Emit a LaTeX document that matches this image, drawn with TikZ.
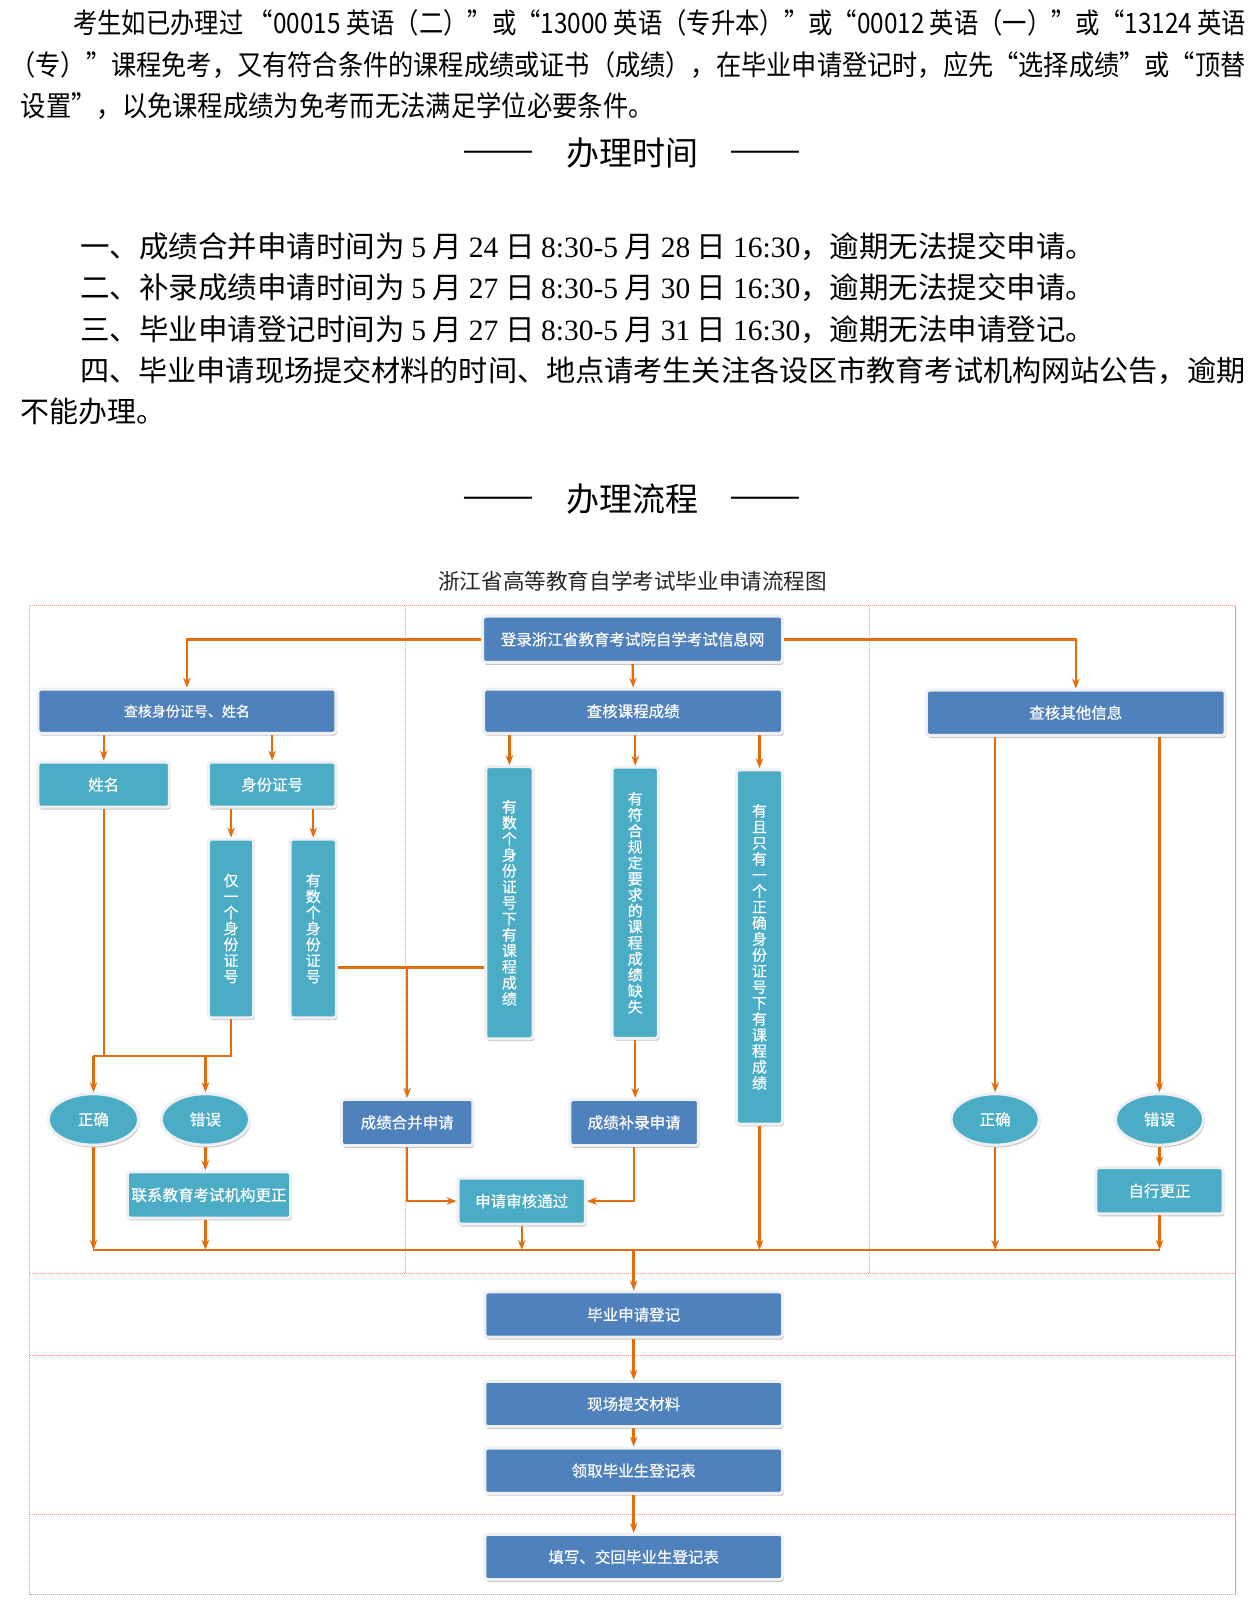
\documentclass[tikz,border=0pt]{standalone}
\usepackage{fontspec}
\setmainfont{Noto Sans CJK SC}
\newfontfamily\sn{Liberation Serif}
\newfontfamily\bxf[FakeBold=0.5]{Noto Sans CJK SC}
\usepackage{graphicx}
\usetikzlibrary{arrows.meta,shapes.geometric,shadows}
\definecolor{boxblue}{RGB}{79,129,189}
\definecolor{boxteal}{RGB}{75,172,198}
\definecolor{lineor}{RGB}{228,108,10}
\definecolor{dotred}{RGB}{236,150,150}
\definecolor{rim}{RGB}{238,240,244}
\begin{document}
\begin{tikzpicture}[x=1.027pt,y=-1.027pt,
  bx/.style={rectangle,rounded corners=3pt,draw=rim,line width=3pt,inner sep=0pt,text=white,
    font=\bxf\fontsize{15.5}{15.5}\selectfont,
    drop shadow={shadow xshift=1.2pt,shadow yshift=-2.4pt,fill=black!45}},
  bblue/.style={bx,fill=boxblue},
  bteal/.style={bx,fill=boxteal},
  vbox/.style={bteal,align=center,font=\bxf\fontsize{15}{16}\selectfont},
  ell/.style={ellipse,fill=boxteal,draw=rim,line width=3pt,inner sep=0pt,text=white,
    font=\bxf\fontsize{15.5}{15.5}\selectfont,
    drop shadow={shadow xshift=1.2pt,shadow yshift=-2.4pt,fill=black!45}},
  bw/.style={minimum width=#1*1.027pt},
  bh/.style={minimum height=#1*1.027pt},
  con/.style={draw=lineor,line width=2.4pt},
  arr/.style={con,-{Stealth[length=10pt,width=7.5pt]}},
  sep/.style={draw=dotred,dash pattern=on 1.2pt off 0.8pt,line width=1pt},
  txt/.style={anchor=west,inner sep=0pt},
  hd/.style={inner sep=0pt,font=\fontsize{33}{33}\selectfont},
]
\fill[white] (0,0) rectangle (1225.9,1569.6);
\useasboundingbox (0,0) rectangle (1225.9,1569.6);

% ---------- top paragraph ----------
\node[txt] (p1) at (71,22) {\resizebox{1173pt}{24pt}{\fontsize{26}{26}\selectfont 考生如已办理过 “00015 英语（二）”或“13000 英语（专升本）”或“00012 英语（一）”或“13124 英语}};
\node[txt] (p2) at (10,63) {\resizebox{1235pt}{24pt}{\fontsize{26}{26}\selectfont （专）”课程免考，又有符合条件的课程成绩或证书（成绩），在毕业申请登记时，应先“选择成绩”或“顶替}};
\node[txt] (p3) at (20,103) {\resizebox{633pt}{24pt}{\fontsize{26}{26}\selectfont 设置”，以免课程成绩为免考而无法满足学位必要条件。}};

% ---------- heading 1 ----------
\node[hd] (d1) at (485,152) {\scalebox{1.3}[1]{——}};
\node[hd] (h1) at (616,149) {办理时间};
\node[hd] (d2) at (745,152) {\scalebox{1.3}[1]{——}};

% ---------- time lines ----------
\node[txt] (t1) at (78,240) {\resizebox{1015pt}{!}{\fontsize{28}{28}\selectfont 一、成绩合并申请时间为 {\sn 5} 月 {\sn 24} 日 {\sn 8:30-5} 月 {\sn 28} 日 {\sn 16:30}，逾期无法提交申请。}};
\node[txt] (t2) at (78,280) {\resizebox{1015pt}{!}{\fontsize{28}{28}\selectfont 二、补录成绩申请时间为 {\sn 5} 月 {\sn 27} 日 {\sn 8:30-5} 月 {\sn 30} 日 {\sn 16:30}，逾期无法提交申请。}};
\node[txt] (t3) at (78,321) {\resizebox{1015pt}{!}{\fontsize{28}{28}\selectfont 三、毕业申请登记时间为 {\sn 5} 月 {\sn 27} 日 {\sn 8:30-5} 月 {\sn 31} 日 {\sn 16:30}，逾期无法申请登记。}};
\node[txt] (t4) at (78,361) {\resizebox{1165pt}{!}{\fontsize{28}{28}\selectfont 四、毕业申请现场提交材料的时间、地点请考生关注各设区市教育考试机构网站公告，逾期}};
\node[txt,font=\fontsize{29}{29}\selectfont] (t5) at (20,401) {不能办理。};

% ---------- heading 2 ----------
\node[hd] (d3) at (485,489) {\scalebox{1.3}[1]{——}};
\node[hd] (h2) at (616,486) {办理流程};
\node[hd] (d4) at (745,489) {\scalebox{1.3}[1]{——}};

% ---------- flow title ----------
\node[inner sep=0pt,font=\fontsize{21.6}{21.6}\selectfont,text=black!85] (title) at (616,566) {浙江省高等教育自学考试毕业申请流程图};

% ---------- separators ----------
\draw[sep] (29,590) rectangle (1203,1553);
\draw[sep] (395,590) -- (395,1240);
\draw[sep] (847,590) -- (847,1240);
\draw[sep] (29,1240) -- (1203,1240);
\draw[sep] (29,1320) -- (1203,1320);
\draw[sep] (29,1475) -- (1203,1475);

% ---------- nodes ----------
\node[bblue,bw=292,bh=45] (login) at (616,622.5) {登录浙江省教育考试院自学考试信息网};
\node[bblue,bw=290,bh=43,font=\bxf\fontsize{14}{14}\selectfont] (chk1) at (182,692.5) {查核身份证号、姓名};
\node[bblue,bw=291,bh=43] (chk2) at (616.5,692.5) {查核课程成绩};
\node[bblue,bw=291,bh=44] (chk3) at (1047.5,694) {查核其他信息};

\node[bteal,bw=128,bh=44] (xm) at (101,764) {姓名};
\node[bteal,bw=124,bh=44] (sfz) at (265,764) {身份证号};
\node[vbox,bw=44,bh=174] (only1) at (225,904) {仅\\一\\个\\身\\份\\证\\号};
\node[vbox,bw=45,bh=174] (many) at (305,904) {有\\数\\个\\身\\份\\证\\号};

\node[vbox,bw=46,bh=265] (mc) at (496,879) {有\\数\\个\\身\\份\\证\\号\\下\\有\\课\\程\\成\\绩};
\node[vbox,bw=45,bh=264] (miss) at (618.5,879) {有\\符\\合\\规\\定\\要\\求\\的\\课\\程\\成\\绩\\缺\\失};
\node[vbox,bw=45,bh=345] (one) at (739.5,922) {有\\且\\只\\有\\一\\个\\正\\确\\身\\份\\证\\号\\下\\有\\课\\程\\成\\绩};

\node[ell,bw=88,bh=50] (ok1) at (91,1090) {正确};
\node[ell,bw=86,bh=50] (err1) at (200,1090) {错误};
\node[bblue,bw=128,bh=45] (merge) at (396.5,1093) {成绩合并申请};
\node[bblue,bw=125,bh=45] (supp) at (617.5,1093) {成绩补录申请};
\node[bteal,bw=159,bh=45] (contact) at (203.5,1163.5) {联系教育考试机构更正};
\node[bteal,bw=124,bh=45] (pass) at (508,1169.5) {申请审核通过};

\node[ell,bw=86,bh=50] (ok2) at (969,1090) {正确};
\node[ell,bw=86,bh=50] (err2) at (1129,1090) {错误};
\node[bteal,bw=124,bh=45] (self) at (1129,1159.5) {自行更正};

\node[bblue,bw=290,bh=44] (grad) at (617,1280) {毕业申请登记};
\node[bblue,bw=290,bh=44] (onsite) at (617,1367) {现场提交材料};
\node[bblue,bw=290,bh=44] (get) at (617,1432) {领取毕业生登记表};
\node[bblue,bw=290,bh=44] (fillin) at (617,1516) {填写、交回毕业生登记表};

% ---------- connectors ----------
\coordinate (yj) at (0,1028);
\coordinate (ym) at (0,942);
\coordinate (yc) at (0,1217);

\draw[arr] (login.west) -| (chk1.north);
\draw[arr] (login.east) -| (chk3.north);
\draw[arr] (login.south) -- (chk2.north);

\draw[arr] (chk1.south -| xm.north) -- (xm.north);
\draw[arr] (chk1.south -| sfz.north) -- (sfz.north);
\draw[arr] (sfz.south -| only1.north) -- (only1.north);
\draw[arr] (sfz.south -| many.north) -- (many.north);

\draw[arr] (chk2.south -| mc.north) -- (mc.north);
\draw[arr] (chk2.south -| miss.north) -- (miss.north);
\draw[arr] (chk2.south -| one.north) -- (one.north);

\draw[con] (xm.south) -- (xm.south |- yj);
\draw[con] (only1.south) |- (ok1.north |- yj);
\draw[arr] (ok1.north |- yj) -- (ok1.north);
\draw[arr] (err1.north |- yj) -- (err1.north);

\draw[con] (many.east |- ym) -- (mc.west |- ym);
\draw[arr] (merge.north |- ym) -- (merge.north);
\draw[arr] (miss.south) -- (miss.south |- supp.north);
\draw[arr] (merge.south) |- (pass.west);
\draw[arr] (supp.south) |- (pass.east);
\draw[arr] (err1.south) -- (err1.south |- contact.north);

\draw[arr] (chk3.south -| ok2.north) -- (ok2.north);
\draw[arr] (chk3.south -| err2.north) -- (err2.north);
\draw[arr] (err2.south) -- (err2.south |- self.north);

\draw[con] (ok1.south |- yc) -- (self.south |- yc);
\draw[arr] (ok1.south) -- (ok1.south |- yc);
\draw[arr] (err1.south |- contact.south) -- (err1.south |- yc);
\draw[arr] (pass.south) -- (pass.south |- yc);
\draw[arr] (one.south) -- (one.south |- yc);
\draw[arr] (ok2.south) -- (ok2.south |- yc);
\draw[arr] (self.south) -- (self.south |- yc);

\draw[arr] (grad.north |- yc) -- (grad.north);
\draw[arr] (grad.south) -- (onsite.north);
\draw[arr] (onsite.south) -- (get.north);
\draw[arr] (get.south) -- (fillin.north);
\end{tikzpicture}
\end{document}
